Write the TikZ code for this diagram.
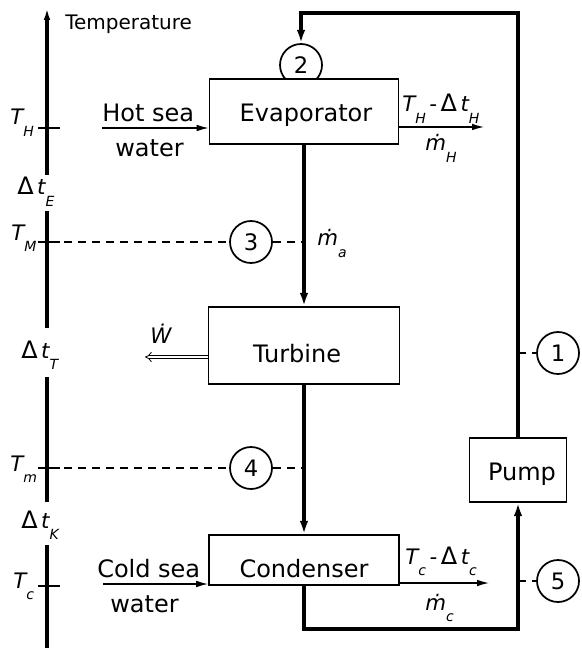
\documentclass[tikz,border=0pt]{standalone}
\usepackage{fontspec}
\setmainfont{DejaVu Sans}
\usetikzlibrary{arrows.meta}
\newcommand{\sbs}[3][0pt]{#2\kern#1\raisebox{-8.5pt}{\fontsize{10.5}{10.5}\selectfont #3}}
\newcommand{\Dl}{{\upshape\fontsize{18}{18}\selectfont Δ}}
\begin{document}
\begin{tikzpicture}[x=0.75pt,y=-0.75pt,
  box/.style={draw, line width=1.3pt, fill=white, inner sep=0pt},
  flow/.style={line width=3pt},
  ax/.style={line width=3.2pt},
  thinline/.style={line width=1pt},
  dsh/.style={line width=1pt, dash pattern=on 6pt off 4.5pt},
  st/.style={draw, circle, line width=1.3pt, fill=white, minimum size=31.5pt, inner sep=0pt, font=\fontsize{17}{17}\selectfont},
  lab/.style={font=\fontsize{18}{20}\selectfont, inner sep=0pt, anchor=base west},
  boxt/.style={font=\fontsize{18}{20}\selectfont, inner sep=0pt, anchor=base},
  sym/.style={font=\fontsize{16}{16}\selectfont\itshape, inner sep=0pt, anchor=base west},
  tip/.style={-{Latex[length=10pt,width=6.5pt]}},
  tipb/.style={-{Latex[length=9pt,width=5pt]}},
]
\useasboundingbox (0,0) rectangle (581,648);

% temperature axis
\draw[ax] (47,648) -- (47,545);
\draw[ax] (47,502) -- (47,377);
\draw[ax] (47,328) -- (47,211);
\draw[ax, -{Latex[length=9pt,width=5pt]}] (47,175) -- (47,8);
\draw[thinline] (38,128) -- (60,128);
\draw[thinline] (38,242) -- (60,242);
\draw[thinline] (38,468) -- (60,468);
\draw[thinline] (38,586) -- (60,586);
\node[lab, font=\fontsize{15}{16}\selectfont] (temp) at (65,30) {Temperature};

% axis labels
\node[sym] (lTH) at (10,125) {\sbs{T}{H}};
\node[sym] (lDE) at (17,195) {\Dl\,\sbs{t}{E}};
\node[sym] (lTM) at (11,240) {\sbs{T}{M}};
\node[sym] (lDT) at (21,358) {\Dl\,\sbs{t}{T}};
\node[sym] (lTm) at (10,471) {\sbs{T}{m}};
\node[sym] (lDK) at (21,528) {\Dl\,\sbs{t}{K}};
\node[sym] (lTc) at (13,588) {\sbs{T}{c}};

% state circles
\node[st] (c2) at (301,65) {2};
\node[st] (c3) at (251,242) {3};
\node[st] (c4) at (251,468) {4};
\node[st] (c1) at (558,353) {1};
\node[st] (c5) at (558,581) {5};

% components
\node[box, minimum width=141.75pt, minimum height=48.75pt] (evap) at (304,111.5) {};
\node[box, minimum width=143.25pt, minimum height=57.75pt] (turb) at (304,345.5) {};
\node[box, minimum width=142.5pt, minimum height=37.5pt] (cond) at (304,560) {};
\node[box, minimum width=72.75pt, minimum height=48pt] (pump) at (518,470) {};
\node[boxt] (evapt) at (306,122) {Evaporator};
\node[boxt] (turbt) at (297,362) {Turbine};
\node[boxt] (condt) at (304,577) {Condenser};
\node[boxt] (pumpt) at (522,480) {Pump};

% working fluid loop
\coordinate (tr) at (518,13);
\coordinate (tl) at (301,13);
\coordinate (bl) at (304,629);
\coordinate (br) at (518,629);
\draw[flow, tip, line join=miter] (pump.north) -- (tr) -- (tl) -- (c2.north);
\draw[flow, tip] (evap.south) -- (turb.north);
\draw[flow, tip] (turb.south) -- (cond.north);
\draw[flow, tip, line join=miter] (cond.south) -- (bl) -- (br) -- (pump.south);

% dashed state connections
\draw[dsh] (64,242) -- (c3.west);
\draw[dsh] (c3.east) -- (304,242);
\draw[dsh] (64,468) -- (c4.west);
\draw[dsh] (c4.east) -- (304,468);
\draw[dsh] (518,353) -- (c1.west);
\draw[dsh] (518,581) -- (c5.west);

% sea water streams
\coordinate (hs) at (102,128);
\coordinate (ho) at (484,127);
\coordinate (cs) at (103,584);
\coordinate (co) at (489,583);
\draw[thinline, tipb] (hs) -- (evap.west |- hs);
\draw[thinline, tipb] (evap.east |- ho) -- (ho);
\draw[thinline, tipb] (cs) -- (cond.west |- cs);
\draw[thinline, tipb] (cond.east |- co) -- (co);
\node[lab] (hot) at (102,122) {Hot sea};
\node[lab] (hotw) at (115,157) {water};
\node[lab] (cold) at (97,577) {Cold sea};
\node[lab] (coldw) at (110,612) {water};

% work output
\coordinate (w) at (145,357);
\draw[double, double distance=2pt, line width=0.6pt, -{Implies}] (turb.west |- w) -- (w);

% flow labels
\node[sym] (lout1) at (402,112) {\sbs{T}{H}\,-\,\Dl\,\sbs{t}{H}};
\node[sym] (lmH) at (425,151) {\sbs{ṁ}{H}};
\node[sym] (lma) at (317,246) {\sbs{ṁ}{a}};
\node[sym] (lW) at (150,343) {Ẇ};
\node[sym] (lout2) at (405,564) {\sbs{T}{c}\,-\,\Dl\,\sbs{t}{c}};
\node[sym] (lmc) at (425,610) {\sbs{ṁ}{c}};
\end{tikzpicture}
\end{document}
